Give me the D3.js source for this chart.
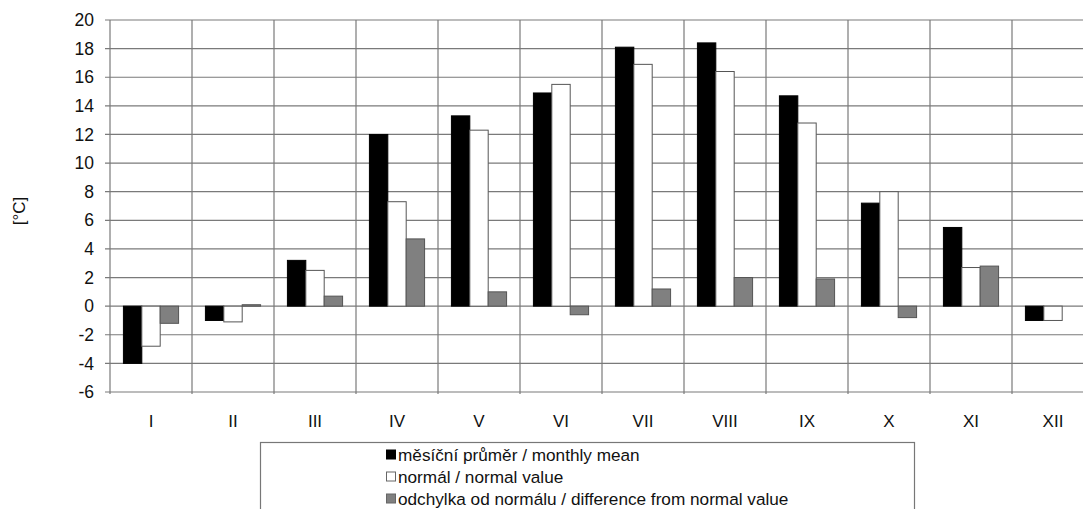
<!DOCTYPE html>
<html><head><meta charset="utf-8">
<script src="https://cdn.jsdelivr.net/npm/d3@7"></script>
<style>body{margin:0;background:#fff;} svg{display:block;} text{font-family:"Liberation Sans",Arial,sans-serif;fill:#111;}</style>
</head><body>
<svg id="c" width="1083" height="509"></svg>
<script>
const months = ["I","II","III","IV","V","VI","VII","VIII","IX","X","XI","XII"];
const monthlyMean = [-4.0,-1.0,3.2,12.0,13.3,14.9,18.1,18.4,14.7,7.2,5.5,-1.0];
const normalValue = [-2.8,-1.1,2.5,7.3,12.3,15.5,16.9,16.4,12.8,8.0,2.7,-1.0];
const difference = [-1.2,0.1,0.7,4.7,1.0,-0.6,1.2,2.0,1.9,-0.8,2.8,0.0];
const yTicks = [-6,-4,-2,0,2,4,6,8,10,12,14,16,18,20];
const seriesNames = ["měsíční průměr / monthly mean","normál / normal value","odchylka od normálu / difference from normal value"];
const seriesFill = ["#000000","#ffffff","#808080"];

const series = [monthlyMean, normalValue, difference];
const svg = d3.select("#c");
const L = 110, R = 1094, T = 20, B = 392;

const x = d3.scaleBand().domain(months).range([L, R]).paddingInner(0).paddingOuter(0);
const x1 = d3.scaleBand().domain([0,1,2]).range([0, x.bandwidth()]).paddingOuter(0.73).paddingInner(0);
const y = d3.scaleLinear().domain([-6, 20]).range([B, T]);

// horizontal grid
svg.append("g").selectAll("line").data(yTicks).join("line")
  .attr("x1", L-5).attr("x2", R).attr("y1", d=>y(d)).attr("y2", d=>y(d))
  .attr("stroke", "#7a7a7a").attr("stroke-width", 1.2);
// vertical grid
svg.append("g").selectAll("line").data(d3.range(months.length+1)).join("line")
  .attr("x1", i=>L + i*x.step()).attr("x2", i=>L + i*x.step())
  .attr("y1", T).attr("y2", B+2)
  .attr("stroke", "#7a7a7a").attr("stroke-width", 1.2);

// y tick labels
svg.append("g").selectAll("text").data(yTicks).join("text")
  .attr("x", 94).attr("y", d=>y(d)).attr("dy","0.35em")
  .attr("text-anchor","end").attr("font-size", 17.5).text(d=>d);

// x labels
svg.append("g").selectAll("text").data(months).join("text")
  .attr("x", d=>x(d)+x.bandwidth()/2).attr("y", 421).attr("dy","0.35em")
  .attr("text-anchor","middle").attr("font-size", 17).text(d=>d);

// y axis title
svg.append("text").attr("transform","translate(19,211) rotate(-90)")
  .attr("text-anchor","middle").attr("dy","0.35em").attr("font-size",17).text("[°C]");

// bars
series.forEach((vals, s) => {
  svg.append("g").selectAll("rect").data(vals).join("rect")
    .attr("x", (d,i)=>x(months[i]) + x1(s))
    .attr("width", x1.bandwidth())
    .attr("y", d=>y(Math.max(0,d)))
    .attr("height", d=>Math.abs(y(d)-y(0)))
    .attr("fill", seriesFill[s])
    .attr("stroke", s===0 ? "#000" : "#555")
    .attr("stroke-width", 1);
});

// legend
const lg = svg.append("g");
lg.append("rect").attr("x",260.5).attr("y",442.5).attr("width",654).attr("height",80)
  .attr("fill","#fff").attr("stroke","#777").attr("stroke-width",1.2);
seriesNames.forEach((n,i)=>{
  const cy = 454.5 + i*22;
  lg.append("rect").attr("x",386.5).attr("y",cy-4.5).attr("width",9).attr("height",9)
    .attr("fill",seriesFill[i]).attr("stroke", i===0?"#000":"#666");
  lg.append("text").attr("x",398).attr("y",cy).attr("dy","0.35em").attr("font-size",17.2).text(n);
});
</script>
</body></html>
